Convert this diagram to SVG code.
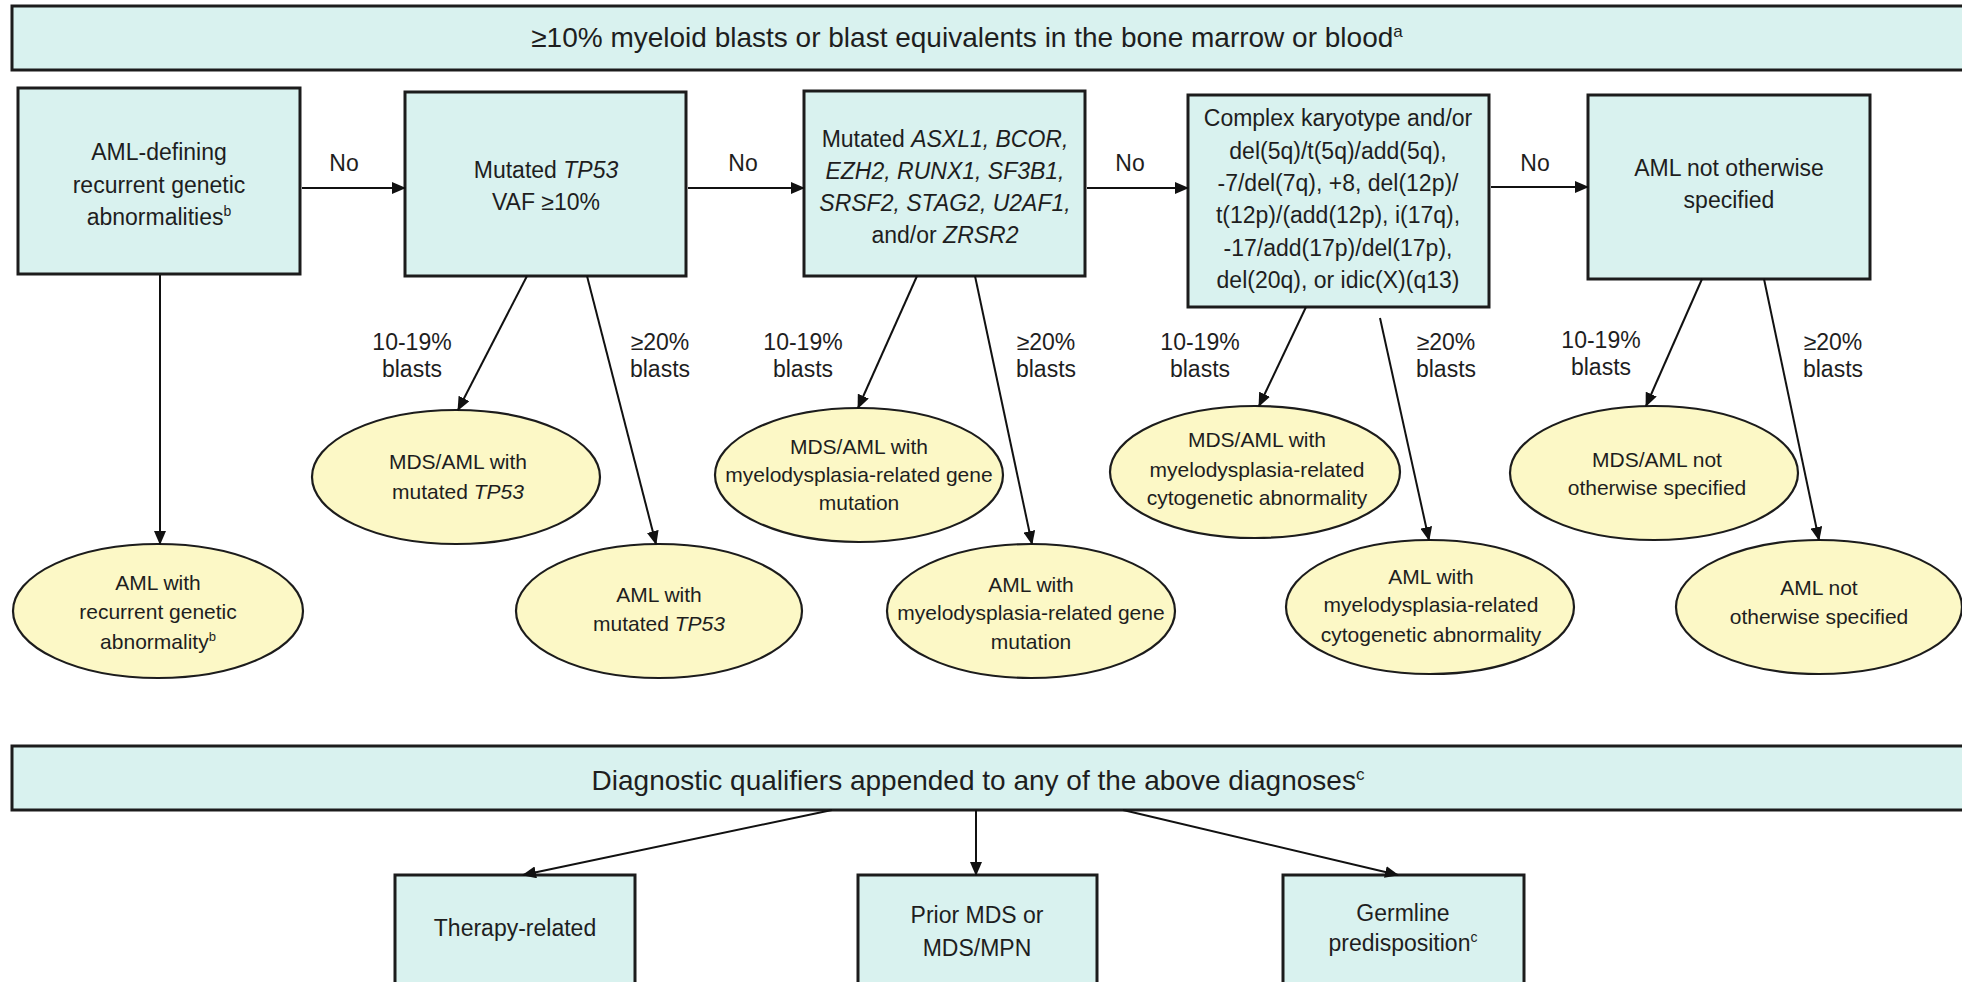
<svg xmlns="http://www.w3.org/2000/svg" width="1962" height="982" viewBox="0 0 1962 982">
<defs>
<marker id="ah" markerWidth="14" markerHeight="12" refX="13" refY="6" orient="auto" markerUnits="userSpaceOnUse">
<path d="M0,0 L14,6 L0,12 Z" fill="#111"/>
</marker>
<style>
.box{fill:#d9f2ef;stroke:#1c1c1c;stroke-width:3}
.ell{fill:#fcf8c6;stroke:#1c1c1c;stroke-width:2.2}
.t{font-family:"Liberation Sans",Arial,sans-serif;fill:#1e1e1e;text-anchor:middle}
.bt{font-size:23px}
.et{font-size:21px}
.lt{font-size:23px}
.hb{font-size:28px}
.i{font-style:italic}
.c line{stroke:#111;stroke-width:2;marker-end:url(#ah)}
</style>
</defs>
<rect width="1962" height="982" fill="#ffffff"/>

<g id="banner-top">
<rect class="box" x="12" y="6" width="1962" height="64"/>
<text class="t hb" x="967" y="47">≥10% myeloid blasts or blast equivalents in the bone marrow or blood<tspan font-size="17" dy="-10">a</tspan></text>
</g>

<g id="box-aml-defining">
<rect class="box" x="18" y="88" width="282" height="186"/>
<text class="t bt" x="159" y="160">AML-defining</text>
<text class="t bt" x="159" y="193">recurrent genetic</text>
<text class="t bt" x="159" y="225">abnormalities<tspan font-size="14" dy="-9">b</tspan></text>
</g>

<g id="box-tp53">
<rect class="box" x="405" y="92" width="281" height="184"/>
<text class="t bt" x="546" y="178">Mutated <tspan class="i">TP53</tspan></text>
<text class="t bt" x="546" y="210">VAF ≥10%</text>
</g>

<g id="box-genes">
<rect class="box" x="804" y="91" width="281" height="185"/>
<text class="t bt" x="945" y="147">Mutated <tspan class="i">ASXL1, BCOR,</tspan></text>
<text class="t bt i" x="945" y="179">EZH2, RUNX1, SF3B1,</text>
<text class="t bt i" x="945" y="211">SRSF2, STAG2, U2AF1,</text>
<text class="t bt" x="945" y="243">and/or <tspan class="i">ZRSR2</tspan></text>
</g>

<g id="box-karyotype">
<rect class="box" x="1188" y="95" width="301" height="212"/>
<text class="t bt" x="1338" y="126">Complex karyotype and/or</text>
<text class="t bt" x="1338" y="159">del(5q)/t(5q)/add(5q),</text>
<text class="t bt" x="1338" y="191">-7/del(7q), +8, del(12p)/</text>
<text class="t bt" x="1338" y="223">t(12p)/(add(12p), i(17q),</text>
<text class="t bt" x="1338" y="256">-17/add(17p)/del(17p),</text>
<text class="t bt" x="1338" y="288">del(20q), or idic(X)(q13)</text>
</g>

<g id="box-nos">
<rect class="box" x="1588" y="95" width="282" height="184"/>
<text class="t bt" x="1729" y="176">AML not otherwise</text>
<text class="t bt" x="1729" y="208">specified</text>
</g>

<g id="ell-aml-recurrent">
<ellipse class="ell" cx="158" cy="611" rx="145" ry="67"/>
<text class="t et" x="158" y="590">AML with</text>
<text class="t et" x="158" y="619">recurrent genetic</text>
<text class="t et" x="158" y="649">abnormality<tspan font-size="13" dy="-8">b</tspan></text>
</g>

<g id="ell-mds-tp53">
<ellipse class="ell" cx="456" cy="477" rx="144" ry="67"/>
<text class="t et" x="458" y="469">MDS/AML with</text>
<text class="t et" x="458" y="499">mutated <tspan class="i">TP53</tspan></text>
</g>

<g id="ell-aml-tp53">
<ellipse class="ell" cx="659" cy="611" rx="143" ry="67"/>
<text class="t et" x="659" y="602">AML with</text>
<text class="t et" x="659" y="631">mutated <tspan class="i">TP53</tspan></text>
</g>

<g id="ell-mds-gene">
<ellipse class="ell" cx="859" cy="475" rx="144" ry="67"/>
<text class="t et" x="859" y="454">MDS/AML with</text>
<text class="t et" x="859" y="482">myelodysplasia-related gene</text>
<text class="t et" x="859" y="510">mutation</text>
</g>

<g id="ell-aml-gene">
<ellipse class="ell" cx="1031" cy="611" rx="144" ry="67"/>
<text class="t et" x="1031" y="592">AML with</text>
<text class="t et" x="1031" y="620">myelodysplasia-related gene</text>
<text class="t et" x="1031" y="649">mutation</text>
</g>

<g id="ell-mds-cyto">
<ellipse class="ell" cx="1255" cy="472" rx="145" ry="66"/>
<text class="t et" x="1257" y="447">MDS/AML with</text>
<text class="t et" x="1257" y="477">myelodysplasia-related</text>
<text class="t et" x="1257" y="505">cytogenetic abnormality</text>
</g>

<g id="ell-aml-cyto">
<ellipse class="ell" cx="1430" cy="607" rx="144" ry="67"/>
<text class="t et" x="1431" y="584">AML with</text>
<text class="t et" x="1431" y="612">myelodysplasia-related</text>
<text class="t et" x="1431" y="642">cytogenetic abnormality</text>
</g>

<g id="ell-mds-nos">
<ellipse class="ell" cx="1654" cy="473" rx="144" ry="67"/>
<text class="t et" x="1657" y="467">MDS/AML not</text>
<text class="t et" x="1657" y="495">otherwise specified</text>
</g>

<g id="ell-aml-nos">
<ellipse class="ell" cx="1819" cy="607" rx="143" ry="67"/>
<text class="t et" x="1819" y="595">AML not</text>
<text class="t et" x="1819" y="624">otherwise specified</text>
</g>

<g id="banner-bottom">
<rect class="box" x="12" y="746" width="1962" height="64"/>
<text class="t hb" x="978" y="790">Diagnostic qualifiers appended to any of the above diagnoses<tspan font-size="17" dy="-10">c</tspan></text>
</g>

<g id="box-therapy">
<rect class="box" x="395" y="875" width="240" height="120"/>
<text class="t bt" x="515" y="936">Therapy-related</text>
</g>

<g id="box-prior">
<rect class="box" x="858" y="875" width="239" height="120"/>
<text class="t bt" x="977" y="923">Prior MDS or</text>
<text class="t bt" x="977" y="956">MDS/MPN</text>
</g>

<g id="box-germline">
<rect class="box" x="1283" y="875" width="241" height="120"/>
<text class="t bt" x="1403" y="921">Germline</text>
<text class="t bt" x="1403" y="951">predisposition<tspan font-size="14" dy="-9">c</tspan></text>
</g>

<g id="labels">
<text class="t lt" x="344" y="171">No</text>
<text class="t lt" x="743" y="171">No</text>
<text class="t lt" x="1130" y="171">No</text>
<text class="t lt" x="1535" y="171">No</text>
<text class="t lt" x="412" y="350">10-19%</text><text class="t lt" x="412" y="377">blasts</text>
<text class="t lt" x="660" y="350">≥20%</text><text class="t lt" x="660" y="377">blasts</text>
<text class="t lt" x="803" y="350">10-19%</text><text class="t lt" x="803" y="377">blasts</text>
<text class="t lt" x="1046" y="350">≥20%</text><text class="t lt" x="1046" y="377">blasts</text>
<text class="t lt" x="1200" y="350">10-19%</text><text class="t lt" x="1200" y="377">blasts</text>
<text class="t lt" x="1446" y="350">≥20%</text><text class="t lt" x="1446" y="377">blasts</text>
<text class="t lt" x="1601" y="348">10-19%</text><text class="t lt" x="1601" y="375">blasts</text>
<text class="t lt" x="1833" y="350">≥20%</text><text class="t lt" x="1833" y="377">blasts</text>
</g>

<g id="connectors" class="c">
<line x1="302" y1="188" x2="405" y2="188"/>
<line x1="688" y1="188" x2="804" y2="188"/>
<line x1="1087" y1="188" x2="1188" y2="188"/>
<line x1="1491" y1="187" x2="1588" y2="187"/>
<line x1="160" y1="275" x2="160" y2="544"/>
<line x1="527" y1="276" x2="458" y2="410"/>
<line x1="587" y1="276" x2="656" y2="544"/>
<line x1="917" y1="276" x2="858" y2="408"/>
<line x1="975" y1="276" x2="1032" y2="544"/>
<line x1="1306" y1="307" x2="1259" y2="406"/>
<line x1="1380" y1="318" x2="1429" y2="540"/>
<line x1="1702" y1="279" x2="1646" y2="406"/>
<line x1="1764" y1="279" x2="1819" y2="540"/>
<line x1="832" y1="810" x2="523" y2="875"/>
<line x1="976" y1="810" x2="976" y2="875"/>
<line x1="1123" y1="810" x2="1398" y2="875"/>
</g>
</svg>
